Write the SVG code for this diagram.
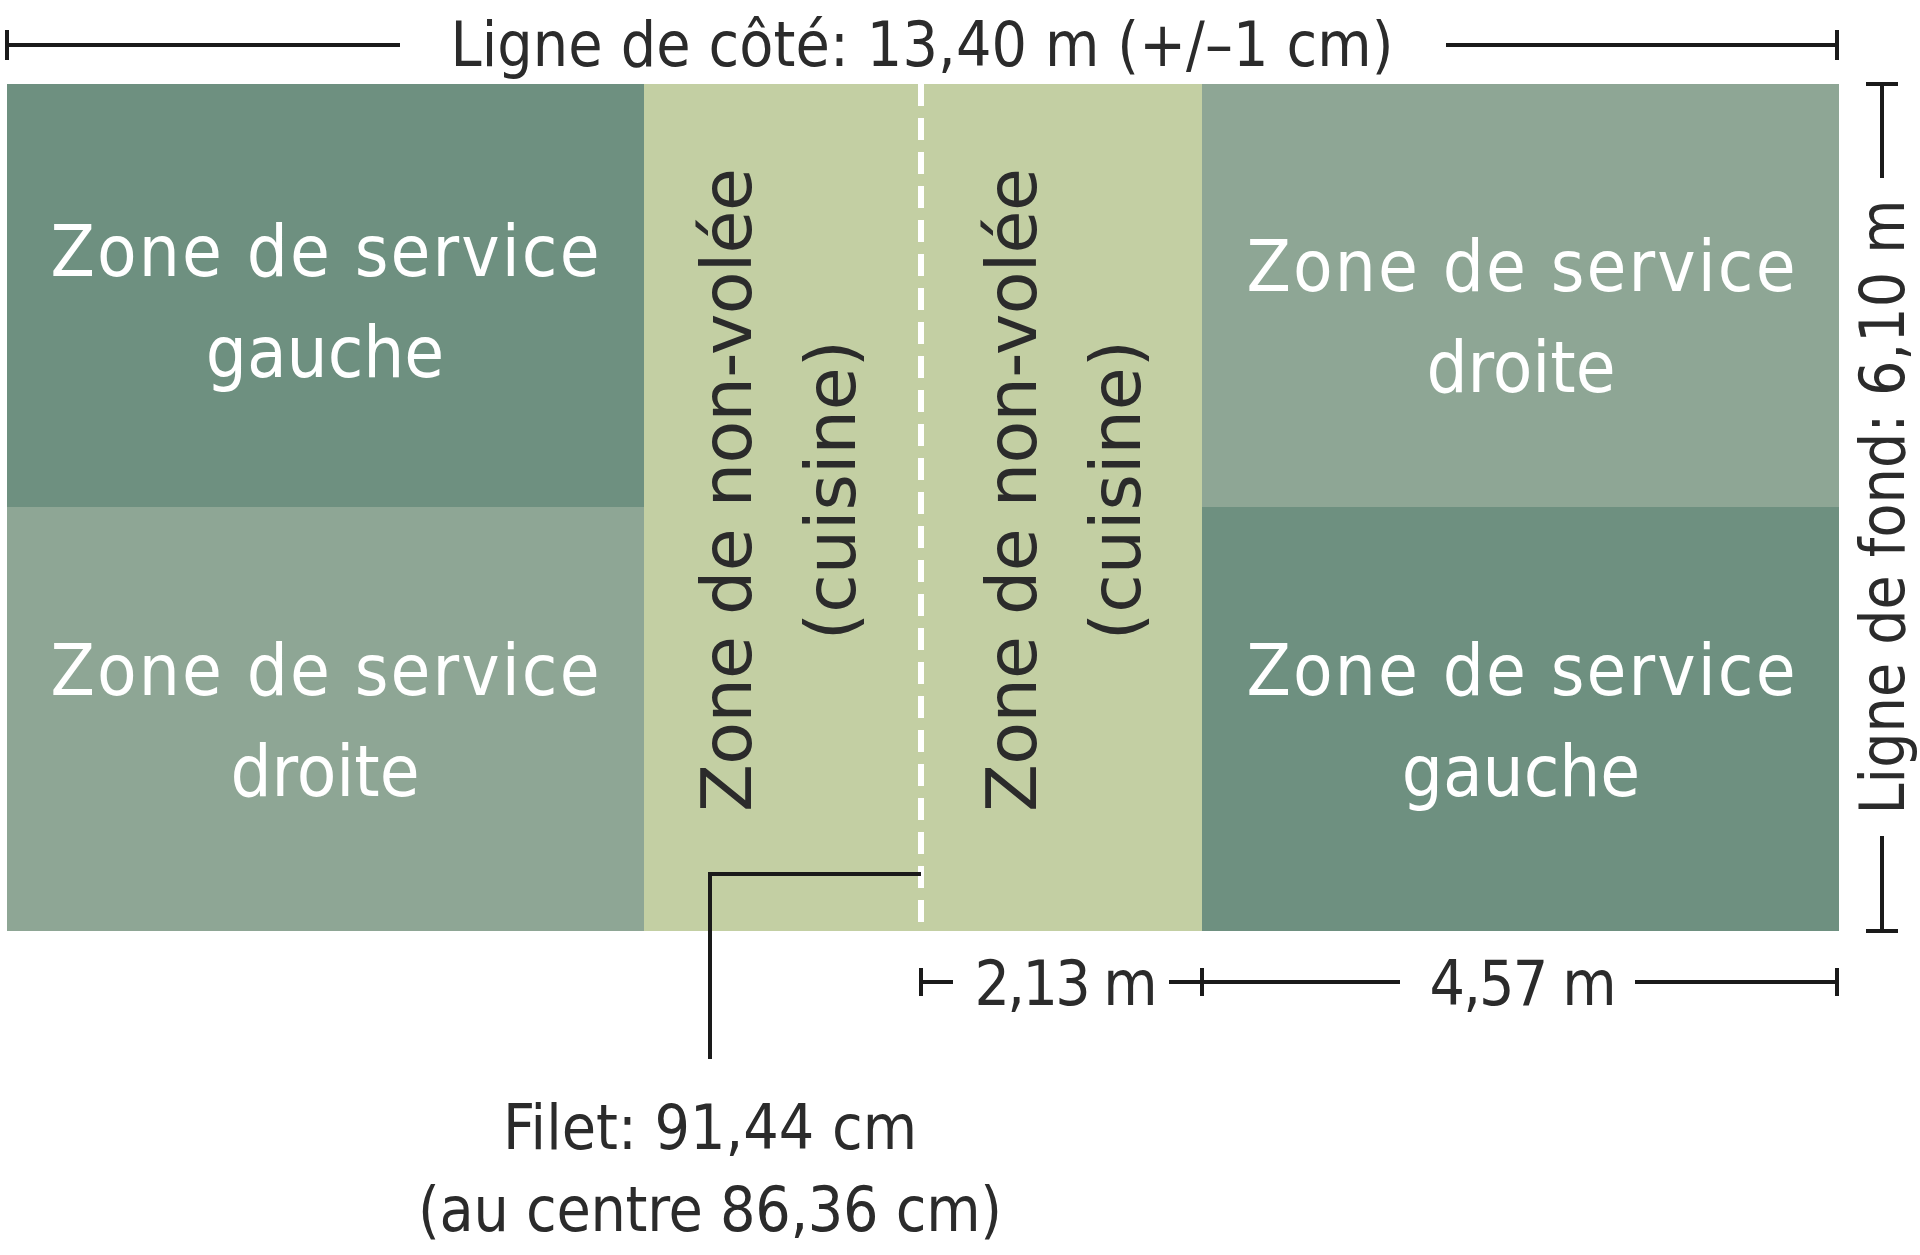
<svg xmlns="http://www.w3.org/2000/svg" width="1920" height="1255" viewBox="0 0 1920 1255">
<style>
.t{font-family:"DejaVu Sans Condensed","Liberation Sans",sans-serif;fill:#2b2b2b;font-size:62px}
.w{font-family:"DejaVu Sans Condensed","Liberation Sans",sans-serif;fill:#ffffff;font-size:72px;text-anchor:middle}
.v{font-family:"DejaVu Sans","Liberation Sans",sans-serif;fill:#2b2b2b;font-size:70px;text-anchor:middle}
.l{stroke:#1a1a1a;stroke-width:4;fill:none}
</style>
<rect width="1920" height="1255" fill="#ffffff"/>
<g id="court">
<rect x="7" y="84" width="637" height="423" fill="#6e9080"/>
<rect x="7" y="507" width="637" height="424" fill="#8ea695"/>
<rect x="644" y="84" width="558" height="847" fill="#c3cfa3"/>
<rect x="1202" y="84" width="637" height="423" fill="#8ea695"/>
<rect x="1202" y="507" width="637" height="424" fill="#6e9080"/>
<line x1="921" y1="84" x2="921" y2="931" stroke="#ffffff" stroke-width="6" stroke-dasharray="22 12"/>
</g>
<g id="zone-tl"><text class="w" x="325" y="276" textLength="549">Zone de service</text><text class="w" x="325" y="377">gauche</text></g>
<g id="zone-bl"><text class="w" x="325" y="695" textLength="549">Zone de service</text><text class="w" x="325" y="796">droite</text></g>
<g id="zone-tr"><text class="w" x="1521" y="291" textLength="549">Zone de service</text><text class="w" x="1521" y="392">droite</text></g>
<g id="zone-br"><text class="w" x="1521" y="695" textLength="549">Zone de service</text><text class="w" x="1521" y="796">gauche</text></g>
<g id="kitchen-l"><text class="v" transform="translate(751,490) rotate(-90)" textLength="644">Zone de non-volée</text><text class="v" transform="translate(855,490) rotate(-90)">(cuisine)</text></g>
<g id="kitchen-r"><text class="v" transform="translate(1036,490) rotate(-90)" textLength="644">Zone de non-volée</text><text class="v" transform="translate(1140,490) rotate(-90)">(cuisine)</text></g>
<g id="connectors">
<path class="l" d="M7 45H400M7 30V60M1446 45H1837M1837 30V60"/>
<path class="l" d="M1882 84V178M1882 836V931M1866 84H1898M1866 931H1898"/>
<path class="l" d="M921 982H953M921 968V996M1169 982H1400M1202 968V996M1635 982H1837M1837 968V996"/>
<path class="l" d="M921 874H710V1059"/>
</g>
<g id="labels">
<text class="t" x="922" y="66" text-anchor="middle" textLength="943">Ligne de côté: 13,40 m (+/–1 cm)</text>
<text class="t" x="1066" y="1005" text-anchor="middle" textLength="183">2,13 m</text>
<text class="t" x="1523" y="1005" text-anchor="middle" textLength="187">4,57 m</text>
<text class="t" x="710" y="1149" text-anchor="middle" textLength="414">Filet: 91,44 cm</text>
<text class="t" x="710" y="1231" text-anchor="middle" textLength="584">(au centre 86,36 cm)</text>
<text class="t" transform="translate(1904,507) rotate(-90)" text-anchor="middle" textLength="615">Ligne de fond: 6,10 m</text>
</g>
</svg>
